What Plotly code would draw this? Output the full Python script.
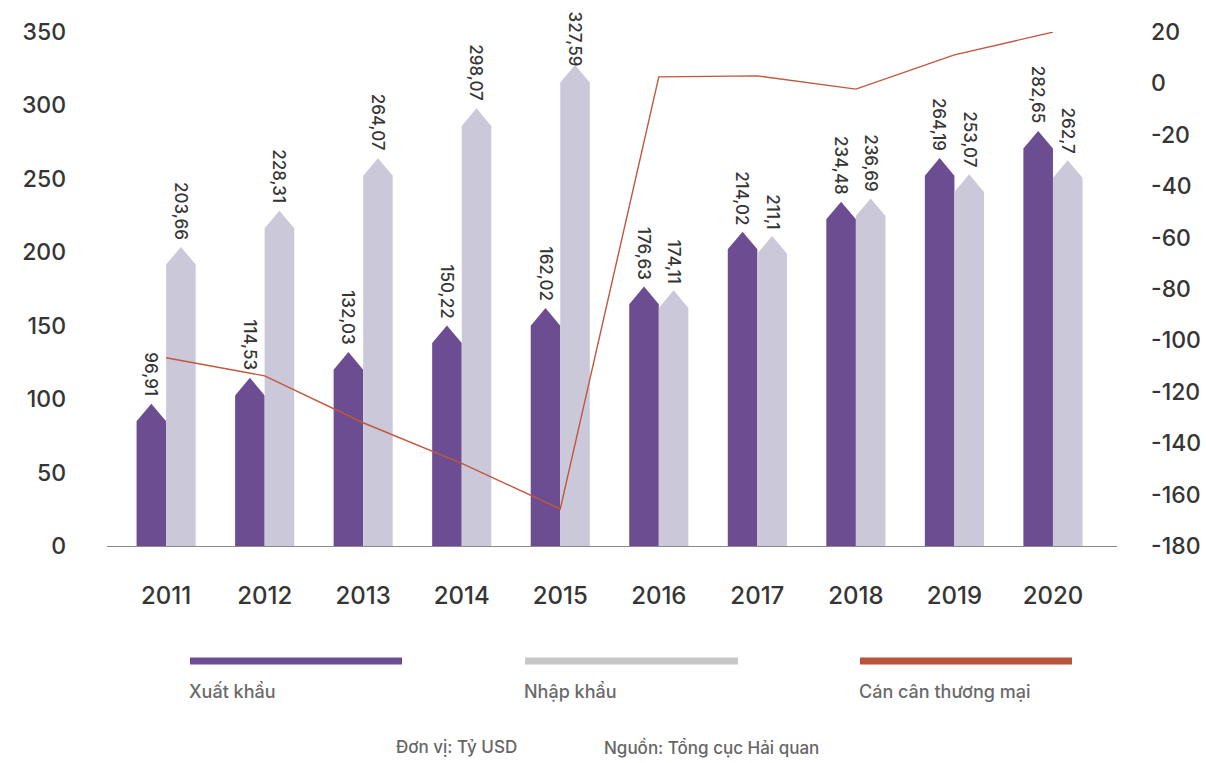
import plotly.graph_objects as go

# Vietnam trade, billion USD
years = [2011, 2012, 2013, 2014, 2015, 2016, 2017, 2018, 2019, 2020]
xuat_khau = [96.91, 114.53, 132.03, 150.22, 162.02, 176.63, 214.02, 234.48, 264.19, 282.65]
nhap_khau = [203.66, 228.31, 264.07, 298.07, 327.59, 174.11, 211.1, 236.69, 253.07, 262.7]
can_can = [round(x - n, 2) for x, n in zip(xuat_khau, nhap_khau)]

left_ticks = [0, 50, 100, 150, 200, 250, 300, 350]
right_ticks = [-180, -160, -140, -120, -100, -80, -60, -40, -20, 0, 20]
right_tick_text = [str(t) for t in right_ticks]

PURPLE = "#6c4d92"
GREY = "#cbc9d9"
ORANGE = "#c0573e"
TEXT = "#353535"
FONT = "Inter"

BAR_W = 0.30      # width of each bar in x units
TIP = 12          # height of the pointed top, in left-axis units


def arrow_bars(centers, values):
    """Build one polygon path (None separated) of pointed bars."""
    xs, ys = [], []
    for c, v in zip(centers, values):
        x0, x1 = c - BAR_W / 2, c + BAR_W / 2
        xs += [x0, x0, c, x1, x1, x0, None]
        ys += [0, v - TIP, v, v - TIP, 0, 0, None]
    return xs, ys


fig = go.Figure()

ex_centers = [y - BAR_W / 2 for y in years]
im_centers = [y + BAR_W / 2 for y in years]

ex_x, ex_y = arrow_bars(ex_centers, xuat_khau)
im_x, im_y = arrow_bars(im_centers, nhap_khau)

fig.add_trace(go.Scatter(x=ex_x, y=ex_y, fill="toself", fillcolor=PURPLE,
                         mode="lines", line=dict(width=0, color=PURPLE),
                         name="Xuất khẩu", showlegend=False, hoverinfo="skip"))
fig.add_trace(go.Scatter(x=im_x, y=im_y, fill="toself", fillcolor=GREY,
                         mode="lines", line=dict(width=0, color=GREY),
                         name="Nhập khẩu", showlegend=False, hoverinfo="skip"))
fig.add_trace(go.Scatter(x=years, y=can_can, yaxis="y2", mode="lines",
                         line=dict(color=ORANGE, width=1.4),
                         name="Cán cân thương mại", showlegend=False))

# Value labels, rotated, above each bar tip
LABEL_CAP = 322
annotations = []
for centers, vals in ((ex_centers, xuat_khau), (im_centers, nhap_khau)):
    for c, v in zip(centers, vals):
        txt = f"{v:g}".replace(".", ",")
        annotations.append(dict(
            x=c, y=min(v, LABEL_CAP), xref="x", yref="y", text=txt,
            textangle=90, showarrow=False, xanchor="center", yanchor="bottom",
            yshift=5, font=dict(family=FONT, size=17, color=TEXT, weight=500)))

# Custom legend: thick line with caption below
L, R, T, B = 107, 89, 32, 217
PW, PH = 1206 - L - R, 763 - T - B


def px(x):
    return (x - L) / PW


def py(y):
    return (763 - B - y) / PH


legend_items = [("Xuất khẩu", PURPLE, 190, 402),
                ("Nhập khẩu", "#c8c8c8", 525, 738),
                ("Cán cân thương mại", "#b8533c", 860, 1072)]
shapes = []
for label, col, x0, x1 in legend_items:
    shapes.append(dict(type="line", xref="paper", yref="paper",
                       x0=px(x0), x1=px(x1), y0=py(661), y1=py(661),
                       line=dict(color=col, width=7)))
    annotations.append(dict(x=px(x0) - 0.003, y=py(692), xref="paper", yref="paper",
                            text=label, showarrow=False, xanchor="left",
                            yanchor="middle",
                            font=dict(family=FONT, size=18, color="#6a6a6a",
                                      weight=500)))

annotations.append(dict(x=px(394), y=py(747), xref="paper", yref="paper",
                        text="Đơn vị: Tỷ USD", showarrow=False, xanchor="left",
                        yanchor="middle",
                        font=dict(family=FONT, size=17, color="#666666",
                                  weight=500)))
annotations.append(dict(x=px(602), y=py(747), xref="paper", yref="paper",
                        text="Nguồn: Tổng cục Hải quan", showarrow=False,
                        xanchor="left", yanchor="middle",
                        font=dict(family=FONT, size=17, color="#666666",
                                  weight=500)))

tick_font = dict(family=FONT, size=23, color=TEXT, weight=500)

fig.update_layout(
    width=1206, height=763,
    margin=dict(l=L, r=R, t=T, b=B, autoexpand=False),
    paper_bgcolor="white", plot_bgcolor="white",
    showlegend=False,
    xaxis=dict(range=[2010.40, 2020.65], tickvals=years,
               ticktext=[str(y) for y in years],
               showline=True, linecolor="#8a8a8a", linewidth=1,
               showgrid=False, zeroline=False, ticks="",
               automargin=False, ticklabelstandoff=28,
               tickfont=dict(family=FONT, size=24, color=TEXT, weight=500)),
    yaxis=dict(range=[0, 350], tickvals=left_ticks, showgrid=False,
               zeroline=False, ticks="", automargin=False,
               ticklabelstandoff=40, tickfont=tick_font),
    yaxis2=dict(range=[-180, 20], overlaying="y", side="right",
                tickvals=right_ticks, ticktext=right_tick_text,
                showgrid=False, zeroline=False, ticks="", automargin=False,
                ticklabelstandoff=33, tickfont=tick_font),
    shapes=shapes,
    annotations=annotations,
)

fig.write_html("out.html")
